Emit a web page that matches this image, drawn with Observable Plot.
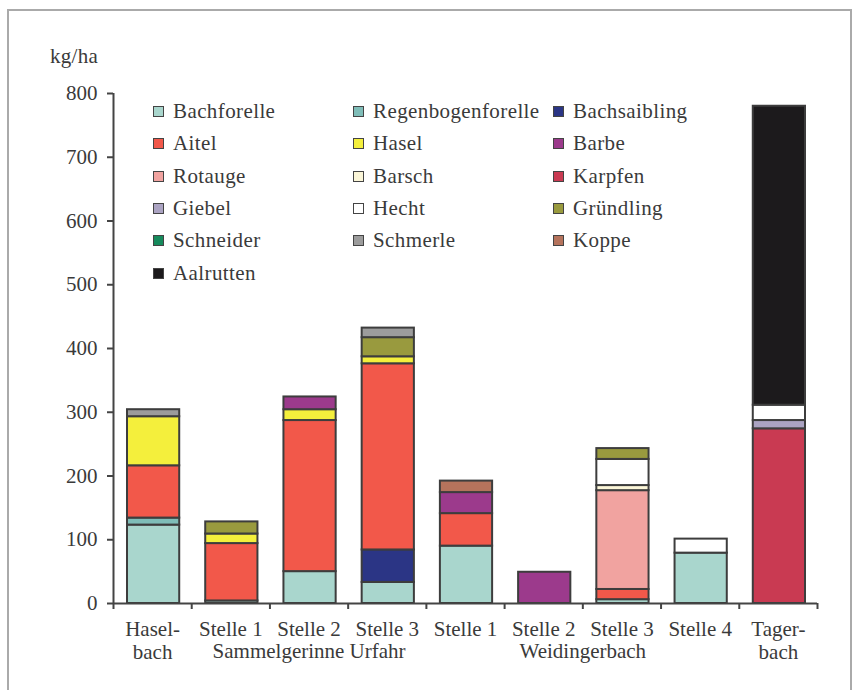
<!DOCTYPE html>
<html>
<head>
<meta charset="utf-8">
<script src="https://cdn.jsdelivr.net/npm/d3@7"></script>
<script src="https://cdn.jsdelivr.net/npm/@observablehq/plot@0.6"></script>
<style>
  html, body { margin: 0; padding: 0; background: #fff; }
  #wrap { position: relative; width: 855px; height: 690px; overflow: hidden; font-family: "Liberation Serif", serif; color: #3a3a3a; }
  #wrap svg { position: absolute; left: 0; top: 0; }
  #frame { position: absolute; left: 7px; top: 9px; width: 841px; height: 720px; border: 2px solid #aaa; border-bottom: none; }
  #unit { position: absolute; left: 50px; top: 44px; font-size: 21px; letter-spacing: 0.3px; }
  .item { position: absolute; font-size: 21px; letter-spacing: 0.4px; white-space: nowrap; line-height: 1; }
  .sw { position: absolute; width: 9px; height: 9px; border: 1.6px solid #444; }
</style>
</head>
<body>
<div id="wrap">
  <div id="frame"></div>
  <div id="unit">kg/ha</div>
</div>
<script>
// Sites (categories) and their axis labels
const sites = ["Haselbach", "Stelle 1 SU", "Stelle 2 SU", "Stelle 3 SU", "Stelle 1 W", "Stelle 2 W", "Stelle 3 W", "Stelle 4 W", "Tagerbach"];
const siteLabels = ["Hasel-\nbach", "Stelle 1", "Stelle 2", "Stelle 3", "Stelle 1", "Stelle 2", "Stelle 3", "Stelle 4", "Tager-\nbach"];
const groupLabels = ["Sammelgerinne Urfahr", "Weidingerbach"];
const groupFrom = [1, 4];
const groupTo = [4, 8];
const yTicks = [0, 100, 200, 300, 400, 500, 600, 700, 800];

// Species (legend / stacking order)
const species = ["Bachforelle", "Regenbogenforelle", "Bachsaibling", "Aitel", "Hasel", "Barbe", "Rotauge", "Barsch", "Karpfen", "Giebel", "Hecht", "Gründling", "Schneider", "Schmerle", "Koppe", "Aalrutten"];
const speciesColors = ["#a9d6cd", "#7fbdb8", "#2b3585", "#f2584a", "#f4ef3c", "#9c3a8c", "#f1a3a0", "#fbf6d8", "#c93a52", "#aba3c2", "#ffffff", "#999a3e", "#168a5c", "#9c9c9c", "#b5735c", "#1c1a1c"];

// Biomass values (kg/ha) per site, one array per species
const bachforelle       = [123, 4, 50, 33, 90, 0, 6, 79, 0];
const regenbogenforelle = [11, 0, 0, 0, 0, 0, 0, 0, 0];
const bachsaibling      = [0, 0, 0, 51, 0, 0, 0, 0, 0];
const aitel             = [82, 90, 237, 292, 51, 0, 16, 0, 0];
const hasel             = [77, 15, 17, 11, 0, 0, 0, 0, 0];
const barbe             = [0, 0, 20, 0, 33, 49, 0, 0, 0];
const rotauge           = [0, 0, 0, 0, 0, 0, 155, 0, 0];
const barsch            = [0, 0, 0, 0, 0, 0, 8, 0, 0];
const karpfen           = [0, 0, 0, 0, 0, 0, 0, 0, 274];
const giebel            = [0, 0, 0, 0, 0, 0, 0, 0, 13];
const hecht             = [0, 0, 0, 0, 0, 0, 41, 22, 24];
const gruendling        = [0, 19, 0, 30, 0, 0, 17, 0, 0];
const schneider         = [0, 0, 0, 0, 0, 0, 0, 0, 0];
const schmerle          = [11, 0, 0, 15, 0, 0, 0, 0, 0];
const koppe             = [0, 0, 0, 0, 18, 0, 0, 0, 0];
const aalrutten         = [0, 0, 0, 0, 0, 0, 0, 0, 469];

const seriesValues = [bachforelle, regenbogenforelle, bachsaibling, aitel, hasel, barbe, rotauge, barsch, karpfen, giebel, hecht, gruendling, schneider, schmerle, koppe, aalrutten];

// Long table built from the arrays
const table = [];
species.forEach((sp, k) => {
  seriesValues[k].forEach((v, i) => {
    if (v > 0) table.push({site: sites[i], i, species: sp, value: v});
  });
});
const siteTable = sites.map((s, i) => ({site: s, i, label: siteLabels[i]}));
const groupTable = groupLabels.map((g, k) => ({label: g, from: groupFrom[k], to: groupTo[k]}));

const chart = Plot.plot({
  width: 855,
  height: 690,
  marginLeft: 113,
  marginRight: 38,
  marginTop: 93,
  marginBottom: 87,
  style: {fontFamily: "Liberation Serif, serif", fontSize: "21px", color: "#3a3a3a", background: "transparent"},
  x: {domain: [0, sites.length], axis: null},
  y: {domain: [0, 800], axis: null},
  color: {domain: species, range: speciesColors},
  marks: [
    Plot.rectY(table, Plot.stackY({
      x1: "i",
      x2: d => d.i + 1,
      y: "value",
      fill: "species",
      order: species,
      stroke: "#3d3d3d",
      strokeWidth: 2,
      insetLeft: 14,
      insetRight: 12
    })),
    // y axis
    Plot.axisY({ticks: yTicks, tickSize: 6, tickPadding: 10, tickFormat: d => String(d), stroke: "#444", strokeWidth: 2, label: null, fontSize: 21, style: {letterSpacing: "1px"}}),
    Plot.ruleX([0], {y1: 0, y2: 800, stroke: "#444", strokeWidth: 2}),
    // x axis
    Plot.axisX({ticks: d3.range(0, sites.length + 1), tickSize: 6, tickFormat: () => "", stroke: "#444", strokeWidth: 2, label: null}),
    Plot.ruleY([0], {stroke: "#444", strokeWidth: 2}),
    Plot.text(siteTable, {x: d => d.i + 0.5, y: () => 0, text: "label", dy: 16, lineAnchor: "top", lineHeight: 1.1, fill: "#3a3a3a", fontSize: 21}),
    Plot.text(groupTable, {x: d => (d.from + d.to) / 2, y: () => 0, text: "label", dy: 40, lineAnchor: "top", textAnchor: "middle", fill: "#3a3a3a", fontSize: 21})
  ]
});
document.getElementById("wrap").appendChild(chart);

// Legend inside the plot area
const wrap = document.getElementById("wrap");
species.forEach((sp, k) => {
  const col = k % 3, row = Math.floor(k / 3);
  const item = document.createElement("div");
  item.className = "item";
  item.style.left = (153 + col * 200) + "px";
  item.style.top = (101 + row * 32.3) + "px";
  item.style.paddingLeft = "20px";
  const sw = document.createElement("span");
  sw.className = "sw";
  sw.style.left = "0px";
  sw.style.top = "5px";
  sw.style.background = speciesColors[k];
  item.appendChild(sw);
  item.appendChild(document.createTextNode(sp));
  wrap.appendChild(item);
});
</script>
</body>
</html>
